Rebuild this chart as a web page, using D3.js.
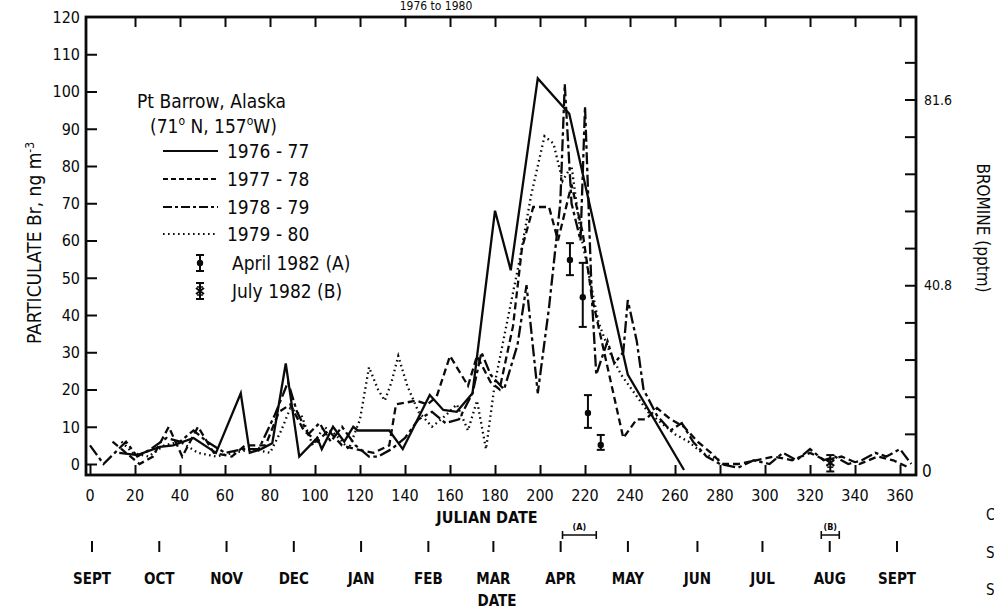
<!DOCTYPE html>
<html><head><meta charset="utf-8">
<script src="https://cdn.jsdelivr.net/npm/d3@7"></script>
<style>
body{margin:0;background:#fff}
svg{display:block}
text{font-family:"DejaVu Sans Condensed","DejaVu Sans",sans-serif;fill:#0a0a0a}
</style>
</head><body>
<svg id="c" width="994" height="610"></svg>
<script>
// ---------------- data ----------------
const julianTicks = [0,20,40,60,80,100,120,140,160,180,200,220,240,260,280,300,320,340,360];
const brTicks = [0,10,20,30,40,50,60,70,80,90,100,110,120];
const pptTicks = [8.16,16.32,24.48,32.64,40.8,48.96,57.12,65.28,73.44,81.6,89.76];
const pptLabels = [0,40.8,81.6];
const months = ["SEPT","OCT","NOV","DEC","JAN","FEB","MAR","APR","MAY","JUN","JUL","AUG","SEPT"];
const monthDays = [0,30,60,90,120,150,179,209,239,270,299,329,359];
const seriesNames = ["1976 - 77","1977 - 78","1978 - 79","1979 - 80"];

const s1976 = [[13,3],[21,2.4],[31,4.6],[37,5],[46,7],[56,3],[67,19],[71,3],[76,4],[81,5.6],[87,27],[93,2],[101,7],[103,4],[108,10],[113,6],[117,10],[119,9],[133,9],[139,4],[151,18.5],[157,14.5],[163,14],[170,19],[180,68],[187,52],[199,103.5],[213,94],[239,24],[264,-1.6]];
const s1977 = [[10,6],[16,3],[22,0],[28,2],[35,10],[41,2],[48,10],[55,3],[63,2],[69,5],[78,5],[84,14],[89,16],[95,9],[101,6],[106,9],[112,5],[118,4],[126,3],[133,5],[136,16],[145,17],[150,16],[154,18],[160,29],[168,21],[172,29],[178,22],[182,20],[188,37],[192,58],[197,69],[204,69],[208,60],[214,75],[219,62],[223,45],[237,7],[243,12],[247,12],[252,15],[258,12],[264,10],[270,6],[276,3],[281,0],[288,0],[296,1],[304,2],[312,1],[320,3],[327,1],[334,2],[342,0],[350,2],[357,1],[364,-1]];
const s1978 = [[0,5],[6,0],[11,3],[16,6],[21,2],[27,4],[34,7],[40,6],[46,9],[52,6],[60,3],[68,4],[75,4],[82,13],[88,22],[92,14],[97,8],[102,11],[107,6],[112,10],[118,5],[124,2],[128,2],[134,4],[140,7],[146,12],[152,14],[158,11],[164,12],[170,19],[174,30],[178,24],[184,20],[190,32],[194,48],[199,19],[204,42],[209,70],[211,102],[214,70],[218,60],[220,96],[223,45],[225,24],[230,33],[233,27],[237,30],[239,44],[243,33],[246,20],[252,13],[258,9],[263,11],[268,6],[274,2],[280,0],[288,-1],[295,1],[302,0],[308,3],[314,1],[320,4],[326,1],[331,2],[337,0],[343,1],[349,3],[354,2],[360,4],[365,0]];
const s1979 = [[14,6],[19,3],[26,2],[33,5],[40,6],[48,3],[56,2],[64,3],[72,4],[80,3],[85,9],[89,15],[94,13],[99,5],[104,10],[109,8],[115,4],[120,12],[124,26],[128,20],[131,17],[134,22],[137,29],[141,21],[146,14],[152,10],[158,13],[163,16],[168,9],[172,17],[176,4],[180,22],[186,40],[191,55],[196,72],[202,88],[206,86],[210,76],[214,80],[218,62],[222,50],[226,38],[231,30],[236,24],[242,19],[248,14],[254,11],[260,8],[266,6],[272,3],[280,1]];

// April 1982 (A) and July 1982 (B): [day, mean, low, high]
const april1982 = [[213.3,54.8,50.7,59.3],[219,44.8,36.8,54],[221.3,13.7,9.7,18.5],[227,5.1,3.8,7.8]];
const july1982 = [[329,0.3,-2,2.4]];
const rangeA = [210,225];
const rangeB = [325,333];

// ---------------- drawing ----------------
const svg = d3.select("#c");
const L=86, R=916, T=17, B=475;
const x = d3.scaleLinear().domain([-1.78,367.1]).range([L,R]);
const y = d3.scaleLinear().domain([-2.95,120]).range([B,T]);
const yR = d3.scaleLinear().domain([0,81.6]).range([471,99.5]);
const xm = d3.scaleLinear().domain([0,359]).range([92,897]);

const ink="#0a0a0a";

// frame
svg.append("rect").attr("x",L).attr("y",T).attr("width",R-L).attr("height",B-T)
  .attr("fill","none").attr("stroke",ink).attr("stroke-width",2.8);

// left axis ticks
const gl = svg.append("g").attr("transform",`translate(${L},0)`)
  .call(d3.axisRight(y).tickValues(brTicks.slice(0,-1)).tickSize(11).tickFormat(""));
gl.select(".domain").remove();
gl.selectAll("line").attr("stroke",ink).attr("stroke-width",2);
svg.append("g").selectAll("text").data(brTicks).join("text")
  .attr("x",80).attr("y",d=>y(d)).attr("dy","0.36em").attr("text-anchor","end")
  .attr("font-size",16).text(d=>d);

// right axis ticks
const gr = svg.append("g").attr("transform",`translate(${R},0)`)
  .call(d3.axisLeft(yR).tickValues(pptTicks).tickSize(11).tickFormat(""));
gr.select(".domain").remove();
gr.selectAll("line").attr("stroke",ink).attr("stroke-width",2);
svg.append("g").selectAll("text").data(pptLabels).join("text")
  .attr("x",d=>d===0?922:924).attr("y",d=>yR(d)).attr("dy","0.36em")
  .attr("font-size",d=>d===0?17:14).text(d=>d===0?"0":d.toFixed(1));

// bottom ticks (inward) and top ticks
const gb = svg.append("g").attr("transform",`translate(0,${B})`)
  .call(d3.axisTop(x).tickValues(julianTicks).tickSize(10).tickFormat(""));
gb.select(".domain").remove();
gb.selectAll("line").attr("stroke",ink).attr("stroke-width",2);
const gt = svg.append("g").attr("transform",`translate(0,${T})`)
  .call(d3.axisBottom(x).tickValues(julianTicks.filter(d=>d>0)).tickSize(10).tickFormat(""));
gt.select(".domain").remove();
gt.selectAll("line").attr("stroke",ink).attr("stroke-width",2);
svg.append("g").selectAll("text").data(julianTicks).join("text")
  .attr("x",d=>x(d)).attr("y",501).attr("text-anchor","middle").attr("font-size",16)
  .text(d=>d);

// series lines
const line = d3.line().x(d=>x(d[0])).y(d=>y(d[1]));
const styles = [
  {data:s1976, dash:null, w:2.3},
  {data:s1977, dash:"7,4", w:2.3},
  {data:s1978, dash:"12,3.5,3.5,3.5", w:2.3},
  {data:s1979, dash:"1.6,3.4", w:2.3}
];
styles.forEach(s=>{
  svg.append("path").datum(s.data).attr("d",line).attr("fill","none")
    .attr("stroke",ink).attr("stroke-width",s.w).attr("stroke-linejoin","miter")
    .attr("stroke-dasharray",s.dash);
});

// error bars
function errBar(g,cx,cy,lo,hi,kind){
  const cap=4;
  g.append("line").attr("x1",cx).attr("x2",cx).attr("y1",lo).attr("y2",hi).attr("stroke",ink).attr("stroke-width",2);
  g.append("line").attr("x1",cx-cap).attr("x2",cx+cap).attr("y1",lo).attr("y2",lo).attr("stroke",ink).attr("stroke-width",2);
  g.append("line").attr("x1",cx-cap).attr("x2",cx+cap).attr("y1",hi).attr("y2",hi).attr("stroke",ink).attr("stroke-width",2);
  if(kind==="A"){
    g.append("circle").attr("cx",cx).attr("cy",cy).attr("r",3.2).attr("fill",ink);
  } else {
    g.append("path").attr("d",`M${cx-4},${cy-3}L${cx+4},${cy+3}M${cx-4},${cy+3}L${cx+4},${cy-3}`).attr("stroke",ink).attr("stroke-width",2);
    g.append("line").attr("x1",cx-3).attr("x2",cx+3).attr("y1",(cy+lo)/2).attr("y2",(cy+lo)/2).attr("stroke",ink).attr("stroke-width",1.5);
    g.append("line").attr("x1",cx-3).attr("x2",cx+3).attr("y1",(cy+hi)/2).attr("y2",(cy+hi)/2).attr("stroke",ink).attr("stroke-width",1.5);
  }
}
const ge = svg.append("g");
april1982.forEach(d=>errBar(ge,x(d[0]),y(d[1]),y(d[2]),y(d[3]),"A"));
july1982.forEach(d=>errBar(ge,x(d[0]),y(d[1]),y(d[2]),y(d[3]),"B"));

// legend
svg.append("text").attr("x",137).attr("y",108).attr("font-size",19).text("Pt Barrow, Alaska");
const t2 = svg.append("text").attr("x",150).attr("y",133).attr("font-size",19);
t2.append("tspan").text("(71");
t2.append("tspan").attr("dy",-8).attr("font-size",12).text("o");
t2.append("tspan").attr("dy",8).text(" N, 157");
t2.append("tspan").attr("dy",-8).attr("font-size",12).text("o");
t2.append("tspan").attr("dy",8).text("W)");
const legY=[151,179,207,234];
styles.forEach((s,i)=>{
  svg.append("line").attr("x1",163).attr("x2",218).attr("y1",legY[i]).attr("y2",legY[i])
    .attr("stroke",ink).attr("stroke-width",2).attr("stroke-dasharray",i===1?"5,3":i===2?"9,3,3,3":s.dash);
  svg.append("text").attr("x",227).attr("y",legY[i]).attr("dy","0.36em").attr("font-size",19).text(seriesNames[i]);
});
errBar(svg,200,263,255,271,"A");
svg.append("text").attr("x",232).attr("y",263).attr("dy","0.36em").attr("font-size",19).text("April  1982 (A)");
errBar(svg,200,291,283,299,"B");
svg.append("text").attr("x",232).attr("y",291).attr("dy","0.36em").attr("font-size",19).text("July  1982 (B)");

// axis titles
svg.append("text").attr("x",487).attr("y",523).attr("text-anchor","middle").attr("font-size",16)
  .attr("font-weight","bold").text("JULIAN DATE");
const yl = svg.append("text").attr("transform","translate(41,243) rotate(-90)").attr("text-anchor","middle").attr("font-size",19);
yl.append("tspan").text("PARTICULATE Br, ng m");
yl.append("tspan").attr("dy",-7).attr("font-size",12).text("-3");
svg.append("text").attr("transform","translate(977,228) rotate(90)").attr("text-anchor","middle")
  .attr("font-size",17).text("BROMINE  (pptm)");
svg.append("text").attr("x",436).attr("y",10).attr("text-anchor","middle").attr("font-size",12).text("1976 to 1980");

// month row
svg.append("g").selectAll("line").data(monthDays).join("line")
  .attr("x1",d=>xm(d)).attr("x2",d=>xm(d)).attr("y1",541).attr("y2",552)
  .attr("stroke",ink).attr("stroke-width",2);
svg.append("g").selectAll("text").data(months).join("text")
  .attr("x",(d,i)=>xm(monthDays[i])).attr("y",584).attr("text-anchor","middle")
  .attr("font-size",15).attr("font-weight","bold").text(d=>d);
svg.append("text").attr("x",497).attr("y",606).attr("text-anchor","middle").attr("font-size",15)
  .attr("font-weight","bold").text("DATE");

// sampling period brackets
function bracket(r,label){
  const x1=x(r[0]), x2=x(r[1]), yy=535;
  const p=d3.path(); p.moveTo(x1,yy-4); p.lineTo(x1,yy+4); p.moveTo(x1,yy); p.lineTo(x2,yy); p.moveTo(x2,yy-4); p.lineTo(x2,yy+4);
  svg.append("path").attr("d",p.toString()).attr("stroke",ink).attr("stroke-width",1.6).attr("fill","none");
  svg.append("text").attr("x",(x1+x2)/2).attr("y",530).attr("text-anchor","middle").attr("font-size",9).attr("font-weight","bold").text(label);
}
bracket(rangeA,"(A)");
bracket(rangeB,"(B)");

// cut-off glyphs of neighbouring figure at right edge
[["C",520],["S",558],["S",595]].forEach(d=>{
  svg.append("text").attr("x",986).attr("y",d[1]).attr("font-size",15).text(d[0]);
});
</script>
</body></html>
